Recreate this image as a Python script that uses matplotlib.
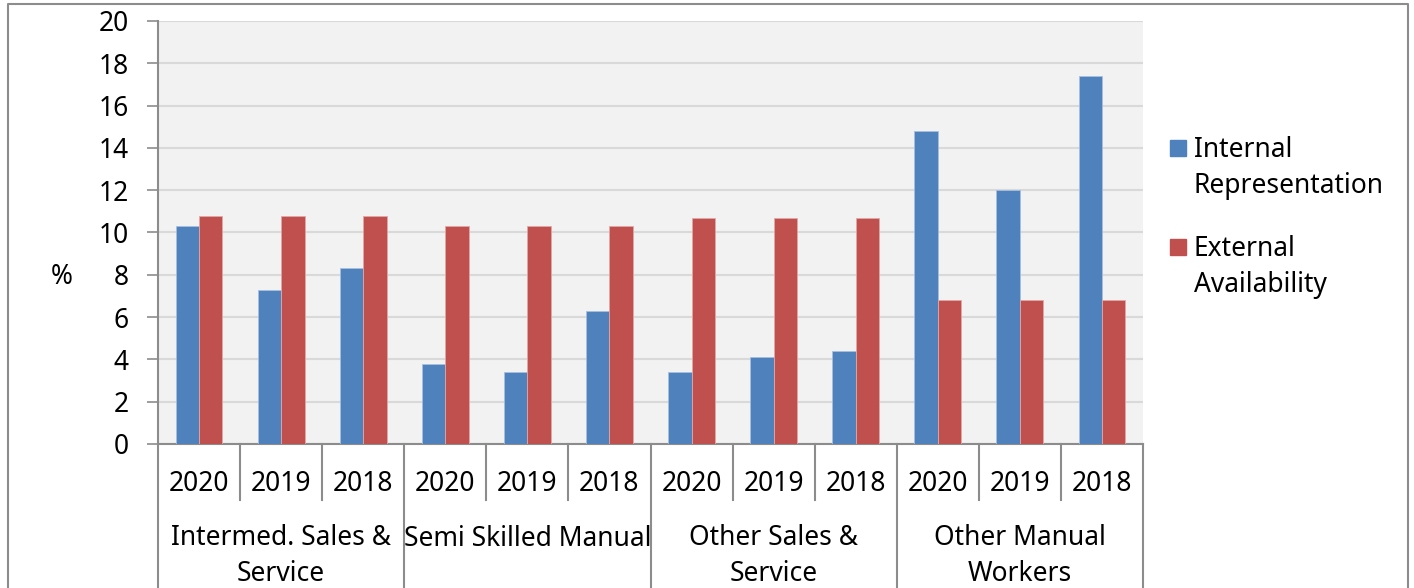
import numpy as np
import matplotlib.pyplot as plt
from matplotlib.lines import Line2D
from matplotlib.patches import Rectangle

plt.rcParams['font.family'] = ['Noto Sans', 'DejaVu Sans']

# Data
groups = ['Intermed. Sales &\nService', 'Semi Skilled Manual',
          'Other Sales &\nService', 'Other Manual\nWorkers']
years = ['2020', '2019', '2018']
internal = [10.3, 7.3, 8.3, 3.8, 3.4, 6.3, 3.4, 4.1, 4.4, 14.8, 12.0, 17.4]
external = [10.8, 10.8, 10.8, 10.3, 10.3, 10.3, 10.7, 10.7, 10.7, 6.8, 6.8, 6.8]
labels = ['Internal\nRepresentation', 'External\nAvailability']

blue = '#4f81bd'
red = '#c0504d'
axis_col = '#8c8c8c'
fs = 19

W, H = 1414, 588
fig = plt.figure(figsize=(W / 100, H / 100), dpi=100)
ax = fig.add_axes([158 / W, 1 - 444 / H, 985 / W, 423 / H])
ax.set_facecolor('#f2f2f2')

n = len(internal)
x = np.arange(n)
bw = 0.285
ax.bar(x - bw / 2, internal, bw, color=blue, edgecolor='#a7bfdf', linewidth=0.6, zorder=3)
ax.bar(x + bw / 2, external, bw, color=red, edgecolor='#e0a8a6', linewidth=0.6, zorder=3)

ax.set_xlim(-0.5, n - 0.5)
ax.set_ylim(0, 20)
ax.set_yticks(range(0, 21, 2))
ax.grid(axis='y', color='#d9d9d9', linewidth=1.5, zorder=0)
ax.set_axisbelow(True)
ax.tick_params(axis='y', labelsize=fs, length=8, width=1.2, color=axis_col, pad=13)
ax.set_xticks([])
for s in ['top', 'right']:
    ax.spines[s].set_visible(False)
for s in ['left', 'bottom']:
    ax.spines[s].set_color(axis_col)
    ax.spines[s].set_linewidth(1.5)

fig.text(62 / W, 1 - 277 / H, '%', fontsize=fs, ha='center', va='center')

# multi-level category axis
tr = ax.get_xaxis_transform()
px = 1 / 423
y_year = -(500 - 444) * px
y_bot = -(600 - 444) * px
for i in range(n + 1):
    xb = i - 0.5
    low = y_bot if i % 3 == 0 else y_year
    ax.add_line(Line2D([xb, xb], [0, low], transform=tr, color=axis_col,
                       linewidth=1.5, clip_on=False))
for i in range(n):
    ax.text(i, -(484 - 444) * px, years[i % 3], transform=tr, ha='center',
            va='center', fontsize=fs)
for g, name in enumerate(groups):
    ax.text(3 * g + 1, -(556 - 444) * px if '\n' in name else -(539 - 444) * px,
            name, transform=tr, ha='center', va='center', fontsize=fs,
            linespacing=1.4)

# legend
for col, lab, ytop in zip([blue, red], labels, [148, 247]):
    fig.add_artist(Rectangle((1170 / W, 1 - (ytop + 8) / H), 16 / W, 16 / H,
                             transform=fig.transFigure, color=col))
    fig.text(1194 / W, 1 - (ytop + 20) / H, lab, fontsize=fs, ha='left',
             va='center', linespacing=1.35)

# outer chart border
fig.add_artist(Line2D([8 / W, 8 / W, 1408 / W, 1408 / W], [0, 1 - 4 / H, 1 - 4 / H, 0],
                      transform=fig.transFigure, color='#8c8c8c', linewidth=1.5))

fig.savefig('out.png', dpi=100)
